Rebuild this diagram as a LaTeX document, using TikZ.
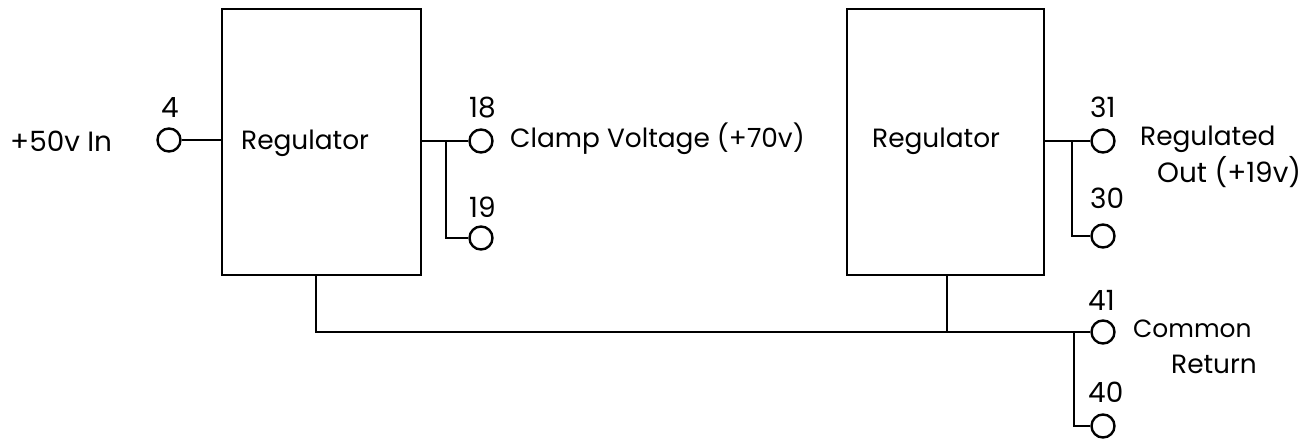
\documentclass[tikz,border=0pt]{standalone}
\usepackage{fontspec}
\setmainfont{Poppins}
\usetikzlibrary{positioning,calc}
\tikzset{
  regbox/.style={draw,line width=2.4bp,minimum height=266bp,inner sep=0pt},
  term/.style={circle,draw,line width=2.4bp,fill=white,minimum size=23bp,inner sep=0pt},
  wire/.style={line width=2.4bp},
  lbl/.style={anchor=base west,inner sep=0pt,font=\fontsize{26.5}{30}\selectfont},
  num/.style={lbl,font=\fontsize{28}{32}\selectfont},
}
\begin{document}
\begin{tikzpicture}[x=1bp,y=-1bp]
  \useasboundingbox (0,0) rectangle (1314,440);
  \node[regbox,minimum width=199bp] (regA) at (321.5,142) {};
  \node[regbox,minimum width=197bp] (regB) at (945.5,142) {};
  \node[lbl] (regAtext) at (241,150) {Regulator};
  \node[lbl] (regBtext) at (872,148) {Regulator};
  % wiring
  \coordinate (j18) at (446,141);
  \coordinate (j31) at (1072,141);
  \coordinate (j41) at (1074,332);
  \coordinate (jB) at (947,332);
  \coordinate (dropA) at (316,275);
  % terminals
  \node[term] (t4) at (169,140) {};
  \node[term] (t18) at (481,141) {};
  \node[term] (t19) at (481,238) {};
  \node[term] (t31) at (1103,141) {};
  \node[term] (t30) at (1103,236) {};
  \node[term] (t41) at (1103,332) {};
  \node[term] (t40) at (1103,426) {};
  \draw[wire] (t4) -- (regA.west |- t4);
  \draw[wire] (regA.east |- t18) -- (t18);
  \draw[wire] (j18) |- (t19);
  \draw[wire] (regB.east |- t31) -- (t31);
  \draw[wire] (j31) |- (t30);
  \draw[wire] (dropA) |- (t41);
  \draw[wire] (regB.south -| jB) -- (jB);
  \draw[wire] (j41) |- (t40);
  % numbers
  \node[num] (n4) at (161,118) {4};
  \node[num] (n18) at (469,118) {18};
  \node[num] (n19) at (469,218) {19};
  \node[num] (n31) at (1090,118) {31};
  \node[num] (n30) at (1090,209) {30};
  \node[num] (n41) at (1088,311) {41};
  \node[num] (n40) at (1088,402) {40};
  % labels
  \node[num] (inlbl) at (10,152) {+50v In};
  \node[lbl] (clamp) at (510,148) {Clamp Voltage (+70v)};
  \node[lbl] (regd) at (1140,146) {Regulated};
  \node[num] (out) at (1157,183) {Out (+19v)};
  \node[lbl,font=\fontsize{25}{29}\selectfont] (common) at (1133,337) {Common};
  \node[lbl] (ret) at (1171,373) {Return};
\end{tikzpicture}
\end{document}
